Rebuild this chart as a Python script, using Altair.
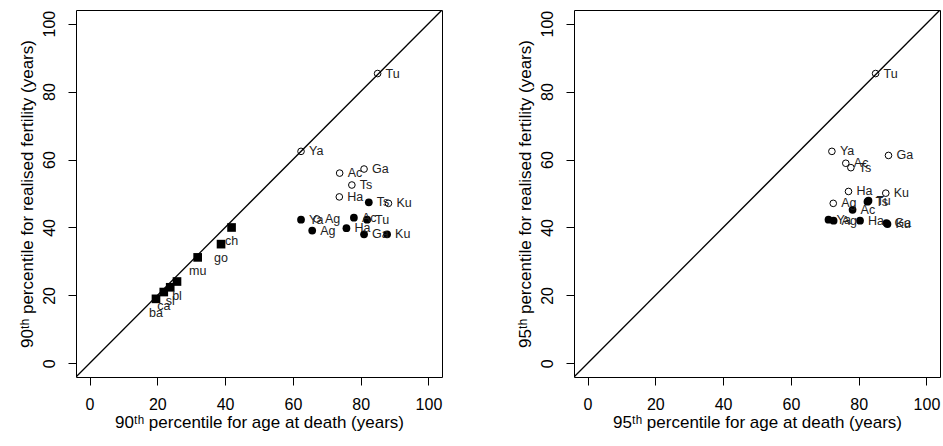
import altair as alt
import pandas as pd

x_range = [-4, 104]
tick_values = [0, 20, 40, 60, 80, 100]

# ---- Left panel: 90th percentiles ----
l_open_lab = ["Tu", "Ya", "Ac", "Ga", "Ts", "Ha", "Ku", "Ag"]
l_open_x = [85.0, 62.4, 73.8, 81.0, 77.4, 73.7, 88.2, 67.1]
l_open_y = [85.3, 62.4, 56.0, 57.2, 52.5, 49.0, 47.1, 42.5]

l_fill_lab = ["Ya", "Ag", "Ac", "Tu", "Ha", "Ga", "Ku", "Ts"]
l_fill_x = [62.4, 65.7, 78.0, 81.9, 75.8, 81.0, 87.8, 82.4]
l_fill_y = [42.3, 39.1, 42.9, 42.3, 39.8, 38.0, 38.0, 47.4]

l_sq_lab = ["ba", "ca", "sl", "bl", "mu", "go", "ch"]
l_sq_x = [19.6, 21.9, 23.8, 25.8, 31.9, 38.8, 41.9]
l_sq_y = [19.0, 21.0, 22.4, 24.1, 31.2, 35.1, 40.0]

# ---- Right panel: 95th percentiles ----
r_open_lab = ["Tu", "Ya", "Ac", "Ts", "Ga", "Ha", "Ku", "Ag"]
r_open_x = [85.0, 72.1, 76.2, 77.7, 88.8, 77.0, 88.0, 72.5]
r_open_y = [85.3, 62.4, 58.9, 57.6, 61.2, 50.6, 50.1, 47.1]

r_fill_lab = ["Ts", "Tu", "Ac", "Ya", "Ag", "Ha", "Ga", "Ku"]
r_fill_x = [82.6, 82.9, 78.2, 71.1, 72.6, 80.4, 88.2, 88.5]
r_fill_y = [47.6, 47.9, 45.2, 42.3, 42.0, 42.0, 41.3, 41.0]

diag_vals = [-4, 104]

FONT = "Liberation Sans"


def panel(open_lab, open_x, open_y, fill_lab, fill_x, fill_y,
          sq_lab, sq_x, sq_y, xtitle, ytitle):
    xs = alt.X("x:Q", scale=alt.Scale(domain=x_range, nice=False, zero=False),
               axis=alt.Axis(values=tick_values, title=xtitle))
    ys = alt.Y("y:Q", scale=alt.Scale(domain=x_range, nice=False, zero=False),
               axis=alt.Axis(values=tick_values, title=ytitle))

    diag = pd.DataFrame({"x": diag_vals, "y": diag_vals})
    odf = pd.DataFrame({"x": open_x, "y": open_y, "lab": open_lab})
    fdf = pd.DataFrame({"x": fill_x, "y": fill_y, "lab": fill_lab})

    layers = [
        alt.Chart(diag).mark_line(color="black", strokeWidth=1.3, clip=True)
        .encode(x=xs, y=ys),
        alt.Chart(odf).mark_point(shape="circle", filled=False, size=44,
                                  color="black", strokeWidth=1, opacity=1)
        .encode(x=xs, y=ys),
        alt.Chart(fdf).mark_circle(size=60, color="black", opacity=1)
        .encode(x=xs, y=ys),
    ]
    if sq_lab:
        sdf = pd.DataFrame({"x": sq_x, "y": sq_y, "lab": sq_lab})
        layers.append(alt.Chart(sdf).mark_square(size=75, color="black", opacity=1)
                      .encode(x=xs, y=ys))
        layers.append(alt.Chart(sdf).mark_text(align="center", baseline="middle",
                                               dy=14, fontSize=12.5, font=FONT,
                                               color="#222222")
                      .encode(x=xs, y=ys, text="lab:N"))
    layers.append(alt.Chart(odf).mark_text(align="left", baseline="middle", dx=8,
                                           fontSize=12.5, font=FONT, color="#222222")
                  .encode(x=xs, y=ys, text="lab:N"))
    layers.append(alt.Chart(fdf).mark_text(align="left", baseline="middle", dx=8,
                                           fontSize=12.5, font=FONT, color="#222222")
                  .encode(x=xs, y=ys, text="lab:N"))
    return alt.layer(*layers).properties(width=366, height=367)


left = panel(l_open_lab, l_open_x, l_open_y, l_fill_lab, l_fill_x, l_fill_y,
             l_sq_lab, l_sq_x, l_sq_y,
             "90ᵗʰ percentile for age at death (years)",
             "90ᵗʰ percentile for realised fertility (years)")
right = panel(r_open_lab, r_open_x, r_open_y, r_fill_lab, r_fill_x, r_fill_y,
              [], [], [],
              "95ᵗʰ percentile for age at death (years)",
              "95ᵗʰ percentile for realised fertility (years)")

chart = (
    alt.hconcat(left, right, spacing=72)
    .properties(padding={"left": 17, "top": 9, "right": 0, "bottom": 0},
                background="white")
    .configure_view(stroke="black", strokeWidth=1)
    .configure_axis(
        domain=False, grid=False,
        tickColor="black", tickSize=8, tickWidth=1,
        labelFont=FONT, labelFontSize=16, labelColor="black", labelPadding=11,
        labelFlush=False,
        titleFont=FONT, titleFontSize=17, titleColor="black",
        titleFontWeight="normal",
    )
    .configure_axisX(titlePadding=2)
    .configure_axisY(labelAngle=270, labelAlign="center", labelBaseline="bottom",
                     titlePadding=5)
)

chart.save("out.html", embed_options={"renderer": "svg", "actions": False})
